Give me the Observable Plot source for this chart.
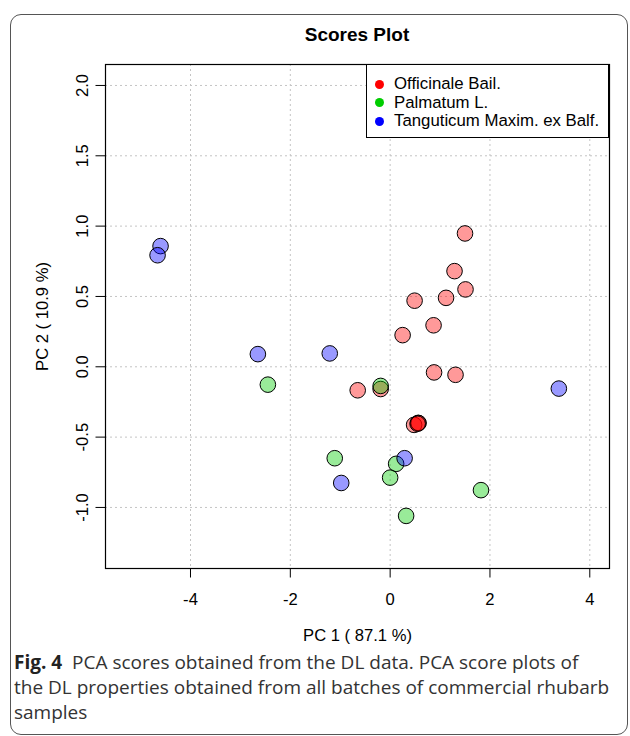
<!DOCTYPE html>
<html>
<head>
<meta charset="utf-8">
<script src="https://cdn.jsdelivr.net/npm/d3@7"></script>
<script src="https://cdn.jsdelivr.net/npm/@observablehq/plot@0.6"></script>
<style>
  html, body { margin: 0; padding: 0; background: #fff; }
  #page { position: relative; width: 630px; height: 736px; overflow: hidden; }
  #border { position: absolute; left: 10px; top: 14px; width: 616px; height: 719px;
            border: 1.3px solid #555; border-radius: 11px; }
  #title { position: absolute; left: 105px; width: 504px; top: 24px; text-align: center;
           font: bold 19px "Liberation Sans", Arial, sans-serif; color: #000; }
  #chart { position: absolute; left: 0; top: 0; }
  #legend { position: absolute; left: 366px; top: 64px; width: 243px; height: 74px;
            border: 1.2px solid #000; background: #fff; box-sizing: border-box;
            font: 16.8px "Liberation Sans", Arial, sans-serif; color: #000; }
  .item { position: absolute; left: 0; height: 18px; line-height: 18px; white-space: nowrap; }
  .dot { position: absolute; left: 8px; top: 4.5px; width: 9px; height: 9px; border-radius: 50%; }
  .lab { position: absolute; left: 27px; top: 0; }
  #caption { position: absolute; left: 14px; top: 650px; width: 610px;
             font: 19px "Open Sans", "Noto Sans", sans-serif; line-height: 25px; color: #333; white-space: nowrap; }
  #caption b { color: #222; }
</style>
</head>
<body>
<div id="page">
  <div id="border"></div>
  <div id="chart"></div>
  <div id="title">Scores Plot</div>
  <div id="legend"></div>
  <div id="caption"><b>Fig. 4</b>&nbsp; PCA scores obtained from the DL data. PCA score plots of<br>the DL properties obtained from all batches of commercial rhubarb<br>samples</div>
</div>
<script>
// ---- data ----
const species = ["Officinale Bail.", "Palmatum L.", "Tanguticum Maxim. ex Balf."];
const colors = ["#FF0000", "#00CD00", "#0000FF"];

const officinalePC1 = [1.50, 1.29, 1.51, 1.12, 0.49, 0.87, 0.25, 0.88, 1.31, -0.65, -0.19, 0.48, 0.56, 0.57, 0.55];
const officinalePC2 = [0.948, 0.68, 0.55, 0.49, 0.47, 0.295, 0.225, -0.04, -0.057, -0.167, -0.158, -0.413, -0.399, -0.40, -0.405];

const palmatumPC1 = [-2.45, -0.19, -1.11, 0.12, 0.00, 1.82, 0.32];
const palmatumPC2 = [-0.127, -0.136, -0.65, -0.69, -0.788, -0.877, -1.06];

const tanguticumPC1 = [-4.60, -4.66, -2.65, -1.21, 3.38, 0.29, -0.98];
const tanguticumPC2 = [0.858, 0.793, 0.09, 0.095, -0.155, -0.65, -0.826];

const xTicks = [-4, -2, 0, 2, 4];
const yTicks = [-1.0, -0.5, 0.0, 0.5, 1.0, 1.5, 2.0];
const xDomain = [-5.703, 4.395];
const yDomain = [-1.434, 2.149];

// ---- build table ----
const groups = [
  [species[0], officinalePC1, officinalePC2],
  [species[1], palmatumPC1, palmatumPC2],
  [species[2], tanguticumPC1, tanguticumPC2]
];
const points = [];
for (const [s, xs, ys] of groups) xs.forEach((v, i) => points.push({species: s, pc1: v, pc2: ys[i]}));

const grid = {stroke: "#c4c4c4", strokeWidth: 1, strokeDasharray: "2,3"};

const chart = Plot.plot({
  width: 630,
  height: 650,
  marginLeft: 105,
  marginRight: 21,
  marginTop: 64,
  marginBottom: 82,
  style: {fontFamily: "'Liberation Sans', Arial, sans-serif", fontSize: "16.6px", background: "transparent", color: "#000", overflow: "visible"},
  x: {domain: xDomain, ticks: xTicks, tickFormat: d => String(d).replace("−", "-"), tickSize: 9.5, tickPadding: 15,
      label: "PC 1 ( 87.1 %)", labelAnchor: "center", labelOffset: 72, labelArrow: "none"},
  y: {domain: yDomain, ticks: yTicks, tickFormat: d => d3.format(".1f")(d).replace("−", "-"), tickSize: 9.5, tickPadding: 8, tickRotate: -90,
      label: "PC 2 ( 10.9 %)", labelAnchor: "center", labelOffset: 69, labelArrow: "none"},
  color: {domain: species, range: colors},
  marks: [
    Plot.ruleX(xTicks, grid),
    Plot.ruleY(yTicks, grid),
    Plot.dot(points, {x: "pc1", y: "pc2", fill: "species", fillOpacity: 0.4, stroke: "#000", strokeWidth: 1, r: 7.8}),
    Plot.frame({stroke: "#000", strokeWidth: 1.2})
  ]
});
document.getElementById("chart").appendChild(chart);

// ---- legend ----
const legend = document.getElementById("legend");
species.forEach((s, i) => {
  const item = document.createElement("div");
  item.className = "item";
  item.style.top = (10 + i * 18.7) + "px";
  const dot = document.createElement("span");
  dot.className = "dot";
  dot.style.background = colors[i];
  const lab = document.createElement("span");
  lab.className = "lab";
  lab.textContent = s;
  item.appendChild(dot);
  item.appendChild(lab);
  legend.appendChild(item);
});
</script>
</body>
</html>
